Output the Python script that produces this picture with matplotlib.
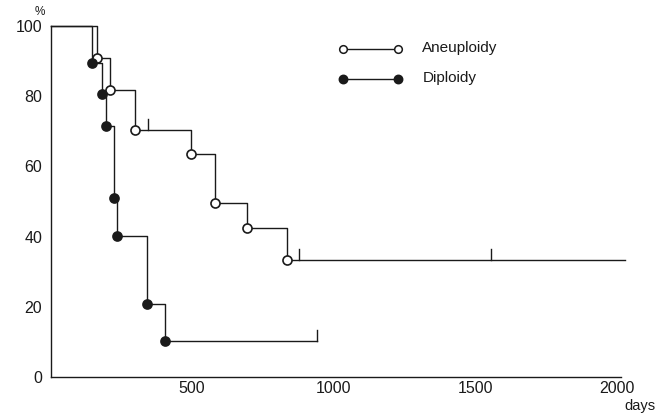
import numpy as np
import matplotlib
matplotlib.use("Agg")
import matplotlib.pyplot as plt

# Kaplan-Meier style survival
aneu_times = [163, 210, 298, 495, 581, 695, 835]
aneu_surv = [90.9, 81.8, 70.4, 63.4, 49.6, 42.5, 33.4]
aneu_censored = [345, 879, 1555]
aneu_end = 2030

dipl_times = [148, 181, 196, 224, 234, 342, 405]
dipl_surv = [89.6, 80.6, 71.5, 51.1, 40.1, 20.8, 10.3]
dipl_censored = [940]
dipl_end = 940

group_names = ["Aneuploidy", "Diploidy"]
x_ticks = [500, 1000, 1500, 2000]
y_ticks = [0, 20, 40, 60, 80, 100]

plt.rcParams['font.family'] = ['Liberation Sans', 'DejaVu Sans']
ink = '#1a1a1a'


def surv_at(t, times, surv):
    """Value of the step curve at time t"""
    val = 100.0
    for ti, si in zip(times, surv):
        if t >= ti:
            val = si
    return val


def draw_curve(ax, times, surv, censored, end, filled):
    xs = [0] + list(times) + [end]
    ys = [100] + list(surv) + [surv[-1]]
    ax.plot(xs, ys, drawstyle='steps-post', color=ink, lw=1.0, clip_on=False, zorder=2)
    ax.plot(times, surv, 'o', ms=6.5, mew=1.2, mec=ink,
            mfc=ink if filled else 'white', clip_on=False, zorder=3)
    for c in censored:
        v = surv_at(c, times, surv)
        ax.plot([c, c], [v, v + 3.0], color=ink, lw=1.0, clip_on=False, zorder=2)


fig = plt.figure(figsize=(6.64, 4.16), dpi=100)
ax = fig.add_axes([0.0761, 0.09375, 0.8588, 0.84375])

draw_curve(ax, aneu_times, aneu_surv, aneu_censored, aneu_end, filled=False)
draw_curve(ax, dipl_times, dipl_surv, dipl_censored, dipl_end, filled=True)

ax.set_xlim(0, 2015)
ax.set_ylim(0, 100)
ax.set_xticks(x_ticks)
ax.set_yticks(y_ticks)
ax.tick_params(length=0, labelsize=11.5, colors=ink)
ax.tick_params(axis='y', pad=6)
ax.tick_params(axis='x', pad=3)
for s in ['top', 'right']:
    ax.spines[s].set_visible(False)
for s in ['left', 'bottom']:
    ax.spines[s].set_color(ink)
    ax.spines[s].set_linewidth(1.0)

# hand-drawn legend like the original
for name, yy, filled in [(group_names[0], 0.934, False), (group_names[1], 0.849, True)]:
    ax.plot([0.513, 0.610], [yy, yy], color=ink, lw=1.0, transform=ax.transAxes, clip_on=False)
    ax.plot([0.513, 0.610], [yy, yy], 'o', ms=6 if filled else 5.5, mew=1.1, mec=ink,
            mfc=ink if filled else 'white', transform=ax.transAxes, clip_on=False)
    ax.text(0.652, yy + 0.004, name, transform=ax.transAxes, va='center', ha='left',
            fontsize=11, color=ink)

fig.text(40 / 664, 1 - 12 / 416, '%', fontsize=8.5, ha='center', va='center', color=ink)
fig.text(640 / 664, 1 - 406 / 416, 'days', fontsize=10.5, ha='center', va='center', color=ink)

fig.savefig('out.png', dpi=100)
